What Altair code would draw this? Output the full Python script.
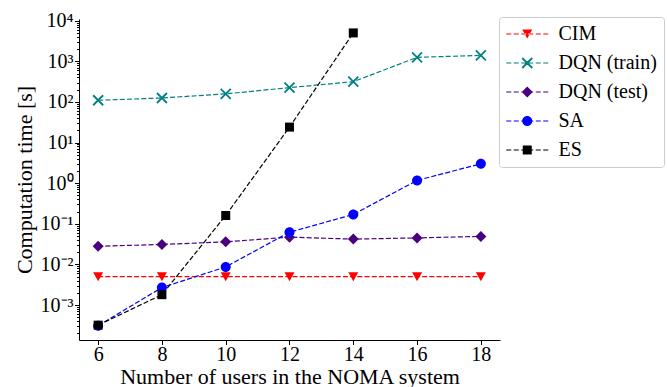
import altair as alt
import pandas as pd

# ---------------- data ----------------
users = [6, 8, 10, 12, 14, 16, 18]
es_users = [6, 8, 10, 12, 14]
cim = [0.005, 0.005, 0.005, 0.005, 0.005, 0.005, 0.005]
dqn_train = [110, 125, 158, 225, 315, 1250, 1400]
dqn_test = [0.028, 0.031, 0.036, 0.047, 0.042, 0.045, 0.049]
sa = [0.00031, 0.0027, 0.0087, 0.062, 0.17, 1.17, 3.0]
es = [0.00032, 0.0018, 0.16, 24, 5000]

methods = ["CIM", "DQN (train)", "DQN (test)", "SA", "ES"]
colors = ["#ff0000", "#008080", "#4b0082", "#0000ff", "#000000"]
x_ticks = [6, 8, 10, 12, 14, 16, 18]
y_major = [1e-3, 1e-2, 1e-1, 1, 10, 100, 1000, 10000]
y_domain = [1.38e-4, 1.1e4]
x_domain = [5.4, 18.6]

series = [
    ("CIM", users, cim),
    ("DQN (train)", users, dqn_train),
    ("DQN (test)", users, dqn_test),
    ("SA", users, sa),
    ("ES", es_users, es),
]
rows = []
for name, xs, ys in series:
    for xv, yv in zip(xs, ys):
        rows.append({"method": name, "users": xv, "time": yv})
df = pd.DataFrame(rows)

# minor + major tick values for the log axis
y_ticks = []
for m in [1e-4] + y_major:
    for k in range(1, 10):
        v = k * m
        if y_domain[0] <= v <= y_domain[1]:
            y_ticks.append(v)

# ---------------- marker shapes ----------------
def poly(pts, dx=0.0):
    return "M" + "L".join(f"{x + dx:.3f},{y:.3f}" for x, y in pts) + "Z"

def circle(dx=0.0, r=1.0):
    return (f"M{dx + r:.3f},0A{r},{r},0,1,1,{dx - r:.3f},0"
            f"A{r},{r},0,1,1,{dx + r:.3f},0Z")

tri = [(0, 0.9), (1, -0.9), (-1, -0.9)]
xr1 = [(-0.873, -1.127), (1.127, 0.873), (0.873, 1.127), (-1.127, -0.873)]
xr2 = [(-1.127, 0.873), (0.873, -1.127), (1.127, -0.873), (-0.873, 1.127)]
dia = [(-1.1, 0), (0, -1.1), (1.1, 0), (0, 1.1)]
sq = [(-0.9, -0.9), (0.9, -0.9), (0.9, 0.9), (-0.9, 0.9)]

def marker(name, dx=0.0):
    if name == "CIM":
        return poly(tri, dx)
    if name == "DQN (train)":
        return poly(xr1, dx) + poly(xr2, dx)
    if name == "DQN (test)":
        return poly(dia, dx)
    if name == "SA":
        return circle(dx)
    return poly(sq, dx)

# dashes for the legend glyph (units of 5 px), marker shifted right
shift = 2.25
dash_px = [(-21, -16), (-13.5, -8.5), (-6, -1), (1, 6), (8.5, 13.5), (16, 21)]
th = 0.12
dash_path = "".join(
    poly([(a / 5, -th), (b / 5, -th), (b / 5, th), (a / 5, th)], shift)
    for a, b in dash_px
)
plot_shapes = [marker(m) for m in methods]
legend_shapes = [dash_path + marker(m, shift) for m in methods]

FONT = "Liberation Serif"
major_test = "abs(log(datum.value)/LN10 - round(log(datum.value)/LN10)) < 1e-6"
label_expr = (
    f"({major_test}) ? '10' + (round(log(datum.value)/LN10) < 0 ? '\u207b' : '') + "
    "substring('\u2070\u00b9\u00b2\u00b3\u2074\u2075\u2076\u2077\u2078\u2079', "
    "abs(round(log(datum.value)/LN10)), abs(round(log(datum.value)/LN10)) + 1) : ''"
)

x_enc = alt.X(
    "users:Q",
    scale=alt.Scale(domain=x_domain, nice=False, zero=False),
    axis=alt.Axis(
        values=x_ticks, format="d", title="Number of users in the NOMA system",
        titleY=43, titleBaseline="alphabetic", tickSize=4.5, labelPadding=0,
        labelFlush=False, labelOverlap=False,
    ),
)
y_enc = alt.Y(
    "time:Q",
    scale=alt.Scale(type="log", domain=y_domain, nice=False),
    axis=alt.Axis(
        values=y_ticks, labelExpr=label_expr, title="Computation time [s]",
        titleX=-48, titleY=160.5, titleBaseline="alphabetic", titleAngle=270,
        tickSize={"condition": {"test": major_test, "value": 4.5}, "value": 2.5},
        labelPadding=1.5, labelOverlap=False,
    ),
)

cscale = alt.Scale(domain=methods, range=colors)
leg = alt.Legend(
    orient="none", legendX=420, legendY=-2, title=None,
    labelFont=FONT, labelFontSize=20, labelColor="black", labelLimit=300,
    symbolSize=100, symbolStrokeWidth=0, symbolOpacity=1, labelOffset=32.5,
    padding=7, rowPadding=9, strokeColor="#cccccc", cornerRadius=3,
    fillColor="white",
)

base = alt.Chart(df)
lines = base.mark_line(strokeDash=[5, 2.2], strokeWidth=1.2).encode(
    x=x_enc, y=y_enc,
    color=alt.Color("method:N", scale=cscale, legend=None),
)
points = base.mark_point(filled=True, size=100, opacity=1, strokeWidth=0).encode(
    x=x_enc, y=y_enc,
    color=alt.Color("method:N", scale=cscale, legend=None),
    shape=alt.Shape("method:N", scale=alt.Scale(domain=methods, range=plot_shapes), legend=None),
)
legend_layer = base.transform_filter("datum.time < 0").mark_point(
    filled=True, size=100, opacity=1, strokeWidth=0
).encode(
    x=x_enc, y=y_enc,
    color=alt.Color("method:N", scale=cscale, legend=leg),
    shape=alt.Shape("method:N", scale=alt.Scale(domain=methods, range=legend_shapes), legend=leg),
)

chart = (
    alt.layer(lines, points, legend_layer)
    .resolve_scale(color="independent", shape="independent")
    .properties(
        width=421, height=321,
        autosize=alt.AutoSizeParams(type="none"),
        padding={"left": 79, "top": 19, "right": 167, "bottom": 47},
    )
    .configure_view(stroke=None)
    .configure_axis(
        grid=False, domainColor="black", tickColor="black", labelColor="black",
        titleColor="black", labelFont=FONT, titleFont=FONT, labelFontSize=20,
        titleFontSize=22, titleFontWeight="normal", domainWidth=1, tickWidth=1,
    )
)

chart.save("out.html", embed_options={"renderer": "svg", "actions": False})
